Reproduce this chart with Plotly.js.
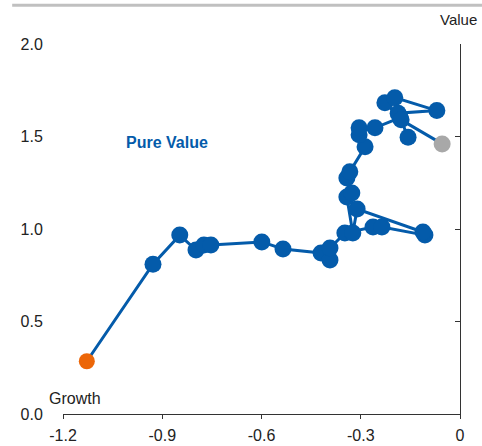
<!DOCTYPE html>
<html>
<head>
<meta charset="utf-8">
<script src="https://cdn.plot.ly/plotly-3.0.1.min.js"></script>
<style>html,body{margin:0;padding:0;background:#fff;}#chart{width:482px;height:446px;}</style>
</head>
<body>
<div id="chart"></div>
<script>
// Style path: Growth (x) vs Value (y), oldest (orange) to latest (grey)
const growth = [-1.128, -0.928, -0.847, -0.798, -0.774, -0.753, -0.599, -0.535, -0.420, -0.393, -0.393, -0.348,
  -0.263, -0.236, -0.106, -0.112, -0.311, -0.324, -0.342, -0.327, -0.342, -0.333, -0.287, -0.305, -0.305,
  -0.257, -0.181, -0.227, -0.197, -0.070, -0.187, -0.157, -0.178, -0.054];
const value = [0.285, 0.810, 0.967, 0.886, 0.913, 0.913, 0.930, 0.892, 0.870, 0.832, 0.897, 0.978,
  1.011, 1.011, 0.967, 0.984, 1.108, 0.978, 1.173, 1.195, 1.276, 1.309, 1.444, 1.509, 1.547,
  1.547, 1.602, 1.683, 1.710, 1.640, 1.626, 1.496, 1.590, 1.460];
const xTicks = [-1.2, -0.9, -0.6, -0.3, 0];
const xTickText = ["-1.2", "-0.9", "-0.6", "-0.3", "0"];
const yTicks = [0, 0.5, 1.0, 1.5, 2.0];
const yTickText = ["0.0", "0.5", "1.0", "1.5", "2.0"];

const BLUE = "#045BAA";
const font = "'Liberation Sans', Arial, sans-serif";
const n = growth.length;
const colors = growth.map((_, i) => i === 0 ? "#EC6608" : (i === n - 1 ? "#A8A8A8" : BLUE));
const sizes = growth.map((_, i) => i === 0 ? 16 : 17);

const traces = [{
  x: growth, y: value, type: "scatter", mode: "lines+markers",
  line: {color: BLUE, width: 3},
  marker: {color: colors, size: sizes, opacity: 1, line: {width: 0}},
  opacity: 1,
  hoverinfo: "skip", showlegend: false
}, {
  x: [0], y: [0], yaxis: "y2", type: "scatter", mode: "markers",
  marker: {opacity: 0}, hoverinfo: "skip", showlegend: false
}];

const layout = {
  width: 482, height: 446,
  margin: {l: 63, r: 22, t: 44, b: 32},
  paper_bgcolor: "#fff", plot_bgcolor: "#fff",
  font: {family: font, size: 16, color: "#222"},
  xaxis: {
    range: [-1.2, 0], tickvals: xTicks, ticktext: xTickText,
    showgrid: false, zeroline: false, showline: true, linecolor: "#333", linewidth: 1,
    ticks: "outside", ticklen: 4, tickcolor: "#333", ticklabelstandoff: 3,
    tickfont: {family: font, size: 16, color: "#222"}
  },
  yaxis: {
    range: [0, 2], tickvals: yTicks, ticktext: yTickText,
    showgrid: false, zeroline: false, showline: false,
    ticks: "outside", ticklen: 16, tickcolor: "rgba(0,0,0,0)",
    tickfont: {family: font, size: 16, color: "#222"}
  },
  yaxis2: {
    range: [0, 2], tickvals: yTicks, overlaying: "y", side: "right", anchor: "x",
    showgrid: false, zeroline: false, showline: true, linecolor: "#333", linewidth: 1,
    ticks: "inside", ticklen: 5, tickcolor: "#333", showticklabels: false
  },
  shapes: [{
    type: "line", xref: "paper", yref: "paper",
    x0: -0.128, x1: 1.06, y0: 1.105, y1: 1.105,
    line: {color: "#C0C0C0", width: 3}
  }],
  annotations: [
    {text: "Value", xref: "paper", yref: "paper", x: 0.997, y: 1.065, xanchor: "center", yanchor: "middle",
     showarrow: false, font: {family: font, size: 15, color: "#222"}},
    {text: "Growth", xref: "paper", yref: "paper", x: 0.03, y: 0.043, xanchor: "center", yanchor: "middle",
     showarrow: false, font: {family: font, size: 16, color: "#222"}},
    {text: "<b>Pure Value</b>", xref: "paper", yref: "paper", x: 0.262, y: 0.735, xanchor: "center", yanchor: "middle",
     showarrow: false, font: {family: font, size: 16, color: BLUE}}
  ]
};

Plotly.newPlot("chart", traces, layout, {displayModeBar: false, staticPlot: true});
</script>
</body>
</html>
